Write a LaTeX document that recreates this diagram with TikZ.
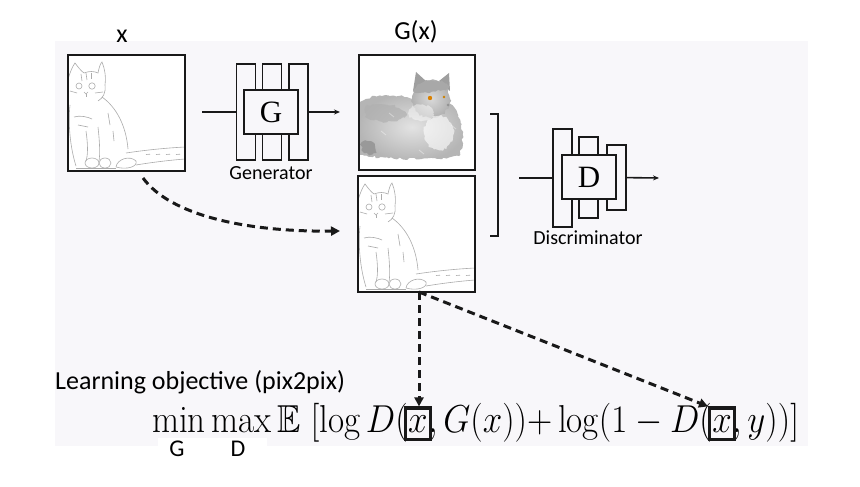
\RequirePackage{fix-cm}
\documentclass[tikz,border=0pt]{standalone}
\usepackage{fontspec}
\usepackage{amssymb}
\setsansfont{Carlito}
\newfontfamily\boxfont{Liberation Serif}
\usetikzlibrary{arrows.meta,fit,positioning,decorations.pathmorphing}
\definecolor{slidebg}{RGB}{248,247,250}
\definecolor{ink}{RGB}{25,25,25}

% line sketch of the sitting cat, box is 117 x 116
\newcommand{\catsketch}{%
  \draw (0,24) .. controls (2,18) and (4,12) .. (7,8) .. controls (10,12) and (13,16) .. (16,18)
        .. controls (21,16) and (26,16) .. (30,18) .. controls (31,13) and (32,9) .. (34,7)
        .. controls (37,14) and (38,22) .. (37,30) .. controls (38,38) and (35,43) .. (30,46);
  \draw (34,42) .. controls (48,52) and (58,70) .. (60,94);
  \draw (2,50) .. controls (0,68) and (2,92) .. (8,111);
  \draw (11,31) circle [radius=3];
  \draw (24,31) circle [radius=3.2];
  \draw (16,37) -- (18,39) -- (20,37);
  \draw (18,39) -- (18,42);
  \draw (2,36) -- (9,38);
  \draw (27,38) -- (35,37);
  \draw (13,19) -- (14,26);
  \draw (18,18) -- (19,25);
  \draw (23,18) -- (23,24);
  \draw (6,62) .. controls (12,60) and (20,62) .. (24,64);
  \draw (10,70) -- (20,72);
  \draw (40,58) -- (42,70);
  \draw (45,76) -- (46,86);
  \draw (18,76) .. controls (20,90) and (20,100) .. (18,106);
  \draw (30,72) .. controls (32,90) and (32,100) .. (31,106);
  \draw (24,108) ellipse [x radius=7, y radius=5];
  \draw (37,108) ellipse [x radius=6, y radius=5];
  \draw (48,112) .. controls (49,104) and (62,100) .. (68,106) .. controls (70,112) and (58,115) .. (48,112);
  \draw (58,98) .. controls (78,95) and (98,93) .. (117,92);
  \draw (68,110) .. controls (86,107) and (104,105) .. (117,104);
  \foreach \u in {78,88,98,108}
    \draw (\u,99.5) -- (\u+4,99.2);
  \draw (8,113) -- (48,113);
}

\begin{document}
\begin{tikzpicture}[x=1pt,y=-1pt,
    lbl/.style={font=\sffamily\fontsize{26}{30}\selectfont, inner sep=0},
    captxt/.style={font=\sffamily\fontsize{20}{24}\selectfont, inner sep=0},
    img/.style={draw=ink, line width=1.3pt, inner sep=0},
    col/.style={draw=ink, line width=1.6pt, fill=slidebg, minimum width=19pt, inner sep=0},
    core/.style={draw=ink, line width=1.6pt, fill=slidebg, inner sep=0,
      minimum width=54pt, minimum height=44pt, font=\boxfont\fontsize{31}{31}\selectfont},
    wire/.style={draw=ink, line width=1.6pt},
    wiretip/.style={-{Stealth[length=6pt,width=5pt]}},
    dashline/.style={draw=ink, line width=3pt, dash pattern=on 8pt off 5pt,
      -{Triangle[length=9pt,width=9pt]}},
    eq/.style={font=\fontsize{33}{38}\selectfont, inner sep=0, anchor=base west,
      xscale=1.06, yscale=1.18, transform shape},
    hl/.style={draw=ink, line width=3.2pt, inner xsep=2.5pt, inner ysep=7pt},
    catline/.style={gray!65, line width=0.6pt},
    fur/.style={decorate, decoration={random steps, segment length=2.5pt, amplitude=1.2pt}}]
  \useasboundingbox (0,0) rectangle (860,487);
  \fill[white] (0,0) rectangle (860,487);
  \fill[slidebg] (55,41) rectangle (808,446);
  \fill[white] (158,438) rectangle (267,446);

  % input sketch
  \fill[white] (68,55) rectangle (185,171);
  \begin{scope}[shift={(68,55)}, catline]
    \clip (0,0) rectangle (117,116);
    \catsketch
  \end{scope}
  % same sketch, paired
  \fill[white] (358,176) rectangle (475,292);
  \begin{scope}[shift={(358,176)}, catline]
    \clip (0,0) rectangle (117,116);
    \catsketch
  \end{scope}
  % generated photo
  \fill[white] (359,55) rectangle (475,170);
  \begin{scope}[shift={(359,55)}]
    \clip (0,0) rectangle (116,115);
    \shade[fur, inner color=gray!22, outer color=gray!58]
      (0,48) .. controls (12,38) and (35,38) .. (55,44) -- (90,48)
      .. controls (104,60) and (107,85) .. (100,101) .. controls (70,106) and (30,104) .. (0,100) -- cycle;
    \fill[fur, gray!62, opacity=0.7] (6,52) .. controls (20,46) and (40,48) .. (48,60)
      .. controls (40,70) and (20,68) .. (6,62) -- cycle;
    \fill[fur, gray!80] (2,88) .. controls (8,82) and (18,88) .. (17,98) .. controls (10,101) and (3,99) .. (2,88) -- cycle;
    \shade[fur, inner color=gray!30, outer color=gray!62] (72,44) circle [radius=19];
    \fill[gray!75] (54,36) -- (57,17) -- (68,27) -- cycle;
    \fill[gray!75] (80,26) -- (90,18) -- (91,36) -- cycle;
    \fill[fur, gray!68] (54,36) .. controls (62,24) and (82,22) .. (91,32) .. controls (82,37) and (65,39) .. (54,36) -- cycle;
    \fill[fur, white, opacity=0.6] (80,78) ellipse [x radius=15, y radius=17];
    \fill[fur, white, opacity=0.45] (62,58) ellipse [x radius=12, y radius=8];
    \foreach \u/\v in {22/76,60/95,92/70,30/58}
      \draw[white, opacity=0.4, line width=0.8pt] (\u,\v) -- (\u+5,\v+4);
    \fill[orange!70!olive] (71,43) circle [radius=2.2];
    \fill[orange!60!olive] (85,42) circle [radius=1.4];
    \fill[gray!85] (89,50) circle [radius=1.5];
  \end{scope}

  \node[img, minimum width=117pt, minimum height=116pt] (xin) at (126.5,113) {};
  \node[img, minimum width=116pt, minimum height=115pt] (gx) at (417,112.5) {};
  \node[img, line width=2.8pt, minimum width=117pt, minimum height=116pt] (low) at (416.5,234) {};

  \node[lbl] (xlab) at (122,36) {x};
  \node[lbl] (gxlab) at (416,32) {G(x)};

  % generator
  \node[col, minimum height=96pt] (g1) at (246,112) {};
  \node[col, minimum height=96pt] (g2) at (272,112) {};
  \node[col, minimum height=96pt] (g3) at (298.5,112) {};
  \node[core] (G) at (271,112) {G};
  \node[captxt] (genlab) at (271,173) {Generator};
  \coordinate (gin) at (202,112);
  \coordinate (gout) at (340,112);
  \draw[wire] (gin) -- (g1);
  \draw[wire, wiretip] (g3) -- (gout);

  % pair bracket
  \draw[ink, line width=2.4pt] (490,114) -- (498,114) -- (498,236) -- (490,236);

  % discriminator
  \node[col, minimum height=98pt] (d1) at (562.5,178) {};
  \node[col, minimum height=81pt] (d2) at (588.5,177.5) {};
  \node[col, minimum height=65pt] (d3) at (616.5,177.5) {};
  \node[core] (D) at (589,177) {D};
  \node[captxt] (dislab) at (588,238) {Discriminator};
  \coordinate (din) at (519,178);
  \coordinate (dout) at (659,178);
  \draw[wire] (din) -- (d1);
  \draw[wire, wiretip] (d3) -- (dout);

  % x copied to the pair
  \coordinate (xs) at (143,178);
  \coordinate (xe) at (340,231);
  \draw[dashline] (xs) .. controls (170,215) and (245,232) .. (xe);

  % objective
  \node[lbl, anchor=west] (obj) at (55,382) {Learning objective (pix2pix)};
  \node[eq] (e1) at (152,432) {$\min\max\mathbb{E}\;[\log D($};
  \node[eq] (x1) at (e1.base east) {$x$};
  \node[eq] (e2) at (x1.base east) {${},G(x)){+}\log(1-D($};
  \node[eq] (x2) at (e2.base east) {$x$};
  \node[eq] (e3) at (x2.base east) {${},y))]$};
  \node[lbl, font=\sffamily\fontsize{24}{28}\selectfont] (gmin) at (177,449) {G};
  \node[lbl, font=\sffamily\fontsize{24}{28}\selectfont] (dmax) at (238,449) {D};
  \node[hl, fit=(x1)] (b1) {};
  \node[hl, fit=(x2)] (b2) {};

  \coordinate (tap) at (419,292);
  \draw[dashline] (tap) -- (tap |- b1.north);
  \draw[dashline] (tap) -- (b2.north west);
\end{tikzpicture}
\end{document}
